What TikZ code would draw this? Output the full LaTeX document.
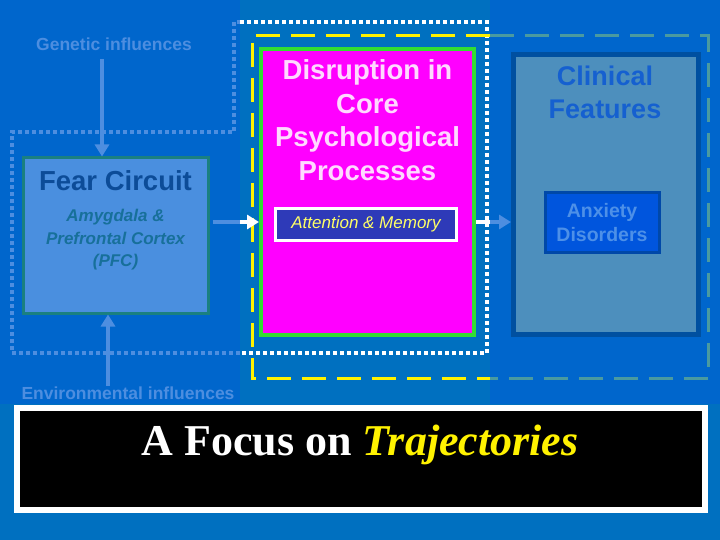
\documentclass[tikz,border=0pt]{standalone}
\usepackage{fontspec}
\setmainfont{Liberation Sans}
\newfontfamily\titlefont{Liberation Serif}
\usetikzlibrary{arrows.meta}
\definecolor{bgA}{HTML}{0066CC}
\definecolor{bgB}{HTML}{0070C0}
\definecolor{lblue}{HTML}{4D8EE0}
\definecolor{fearfill}{HTML}{4A8FDF}
\definecolor{fearborder}{HTML}{1A8080}
\definecolor{feartext}{HTML}{0C4C98}
\definecolor{amytext}{HTML}{17709A}
\definecolor{mag}{HTML}{FF00FF}
\definecolor{grn}{HTML}{33DD33}
\definecolor{distext}{HTML}{FFD9FF}
\definecolor{attfill}{HTML}{2E3AB8}
\definecolor{attext}{HTML}{FFFF66}
\definecolor{clinfill}{HTML}{4D8FBD}
\definecolor{clinborder}{HTML}{0050A0}
\definecolor{clintext}{HTML}{1560D0}
\definecolor{anxfill}{HTML}{0055DD}
\definecolor{anxborder}{HTML}{0048A8}
\definecolor{anxtext}{HTML}{4D90E8}
\definecolor{grdash}{HTML}{4A9AA0}
\tikzset{
  dotline/.style={line width=4pt, dash pattern=on 4pt off 3pt},
  yldash/.style={line width=3pt, dash pattern=on 24pt off 11pt, draw=yellow},
  grdashed/.style={line width=3pt, dash pattern=on 24pt off 11pt, draw=grdash},
  infl/.style={text=lblue, font=\fontsize{17.5}{20}\selectfont\bfseries},
  conn/.style={line width=4pt, -{Triangle[length=12pt,width=14pt]}},
}
\begin{document}
\begin{tikzpicture}[x=1pt,y=-1pt]
\useasboundingbox (0,0) rectangle (720,540);
% backgrounds
\fill[bgB] (0,0) rectangle (720,540);
\fill[bgA] (0,0) rectangle (240,404);
\fill[bgA] (490,0) rectangle (720,404);
% outer dotted frame
\draw[dotline, draw=lblue] (240,353) -- (12,353) -- (12,132) -- (234,132) -- (234,22) -- (240,22);
\draw[dotline, draw=white] (240,22) -- (487,22) -- (487,353) -- (240,353);
% dashed frame
\draw[yldash] (490,36) -- (252,36) -- (252,378) -- (490,378);
\draw[grdashed] (490,36) -- (708,36) -- (708,378) -- (490,378);
% fear circuit box
\node[draw=fearborder, line width=3pt, fill=fearfill, minimum width=185pt, minimum height=155pt, inner sep=0pt] (fear) at (115.5,235.5) {};
\node[text=feartext, font=\fontsize{27.5}{30}\selectfont\bfseries] (feart) at (115.5,181) {Fear Circuit};
\node[text=amytext, align=center, font=\fontsize{17}{22.5}\selectfont\bfseries\itshape] (amy) at (115.5,240) {Amygdala \&\\Prefrontal Cortex\\(PFC)};
% influences
\node[infl] (gen) at (114,44) {Genetic influences};
\node[infl] (env) at (128,393) {Environmental influences};
\coordinate (genS) at (102,59);
\coordinate (envS) at (108,386);
\draw[conn, draw=lblue, fill=lblue] (genS) -- (102,156.5);
\draw[conn, draw=lblue, fill=lblue] (envS) -- (108,314.5);
% core processes box
\node[draw=grn, line width=4pt, fill=mag, minimum width=213pt, minimum height=286pt, inner sep=0pt] (core) at (367.5,192) {};
\node[text=distext, align=center, font=\fontsize{27.5}{33.5}\selectfont\bfseries] (coret) at (367.5,120) {Disruption in\\Core\\Psychological\\Processes};
\node[draw=white, line width=3pt, fill=attfill, minimum width=181pt, minimum height=31pt, inner sep=0pt, text=attext, font=\fontsize{17}{20}\selectfont\itshape] (att) at (366,224.5) {Attention \& Memory};
% clinical box
\node[draw=clinborder, line width=5pt, fill=clinfill, minimum width=185pt, minimum height=280pt, inner sep=0pt] (clin) at (606,194.5) {};
\node[text=clintext, align=center, font=\fontsize{27}{33}\selectfont\bfseries] (clint) at (605,92) {Clinical\\Features};
\node[draw=anxborder, line width=3pt, fill=anxfill, minimum width=114pt, minimum height=59pt, inner sep=0pt, text=anxtext, align=center, font=\fontsize{19.5}{24}\selectfont\bfseries] (anx) at (602,222.5) {Anxiety\\Disorders};
% connectors
\draw[line width=4pt, draw=lblue] (fear.east |- 0,222) ++(3,0) -- (240,222);
\draw[conn, draw=white, fill=white] (240,222) -- (core.west |- 0,222);
\draw[line width=4pt, draw=white] (core.east |- 0,222) -- (490,222);
\draw[conn, draw=lblue, fill=lblue] (490,222) -- (clin.west |- 0,222);
% bottom banner
\node[draw=white, line width=6pt, fill=black, minimum width=688pt, minimum height=102pt, inner sep=0pt] (banner) at (360.5,459) {};
\node[font=\titlefont\fontsize{44}{48}\selectfont\bfseries, text=white, anchor=base] (title) at (360,455) {A Focus on \textcolor{yellow}{\itshape Trajectories}};
\end{tikzpicture}
\end{document}
